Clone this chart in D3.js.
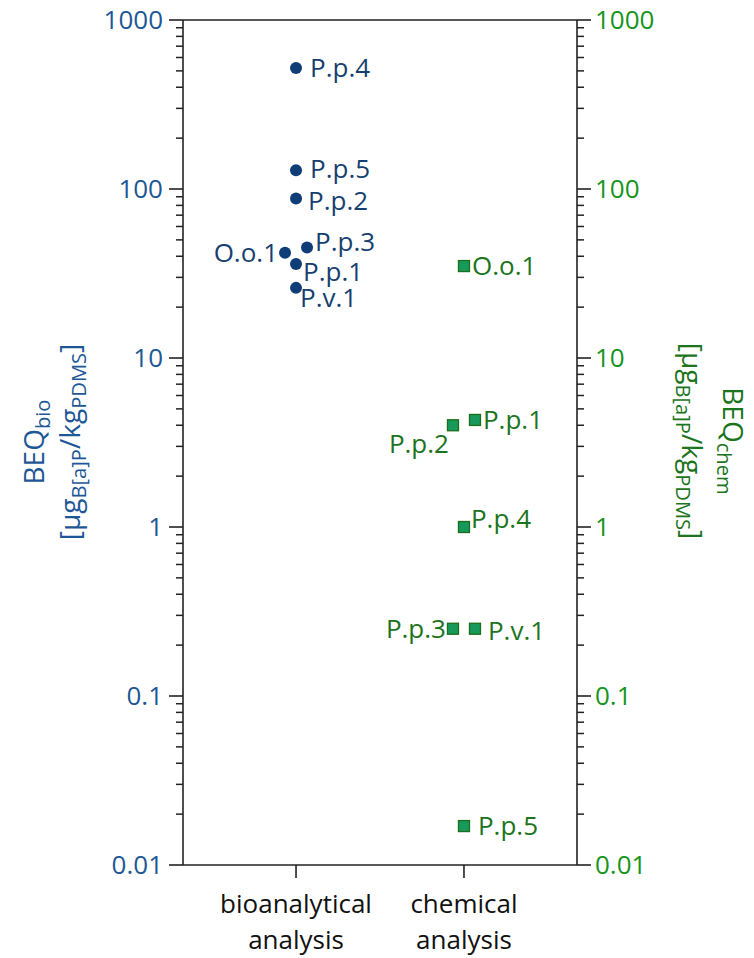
<!DOCTYPE html>
<html>
<head>
<meta charset="utf-8">
<script src="https://cdn.jsdelivr.net/npm/d3@7"></script>
<style>
  html, body { margin: 0; padding: 0; background: #fff; }
  svg { display: block; font-family: "Open Sans", sans-serif; }
</style>
</head>
<body>
<svg id="chart" width="754" height="958"></svg>
<script>
// Categories on the x axis (each label is two lines)
const categories = ["bio", "chem"];
const categoryLines = [["bioanalytical", "analysis"], ["chemical", "analysis"]];

// Bioanalytical equivalents (µg B[a]P / kg PDMS)
const bioSamples = ["P.p.4", "P.p.5", "P.p.2", "P.p.3", "O.o.1", "P.p.1", "P.v.1"];
const bioValues  = [520, 129, 88, 45, 42, 36, 26];
const bioDodge   = [0, 0, 0, 1, -1, 0, 0];

// Chemical-analysis equivalents (µg B[a]P / kg PDMS)
const chemSamples = ["O.o.1", "P.p.1", "P.p.2", "P.p.4", "P.p.3", "P.v.1", "P.p.5"];
const chemValues  = [35, 4.3, 4.0, 1.0, 0.25, 0.25, 0.017];
const chemDodge   = [0, 1, -1, 0, -1, 1, 0];

// Tick values for both log axes
const tickValues = [0.01, 0.1, 1, 10, 100, 1000];
const tickLabels = ["0.01", "0.1", "1", "10", "100", "1000"];

// Where each point label sits relative to its marker: [anchor, dx, dy]
const bioLabelPos = [
  ["start", 14, 0], ["start", 14, -2], ["start", 12, 2], ["start", 8, -6],
  ["end", -7, 0], ["start", 7, 8], ["start", 4, 10]
];
const chemLabelPos = [
  ["start", 8, 0], ["start", 8, 0], ["end", -4, 18], ["start", 7, -8],
  ["end", -7, 0], ["start", 13, 2], ["start", 14, 0]
];

const blueText = "#1d5796", blueDark = "#173f70", blueMark = "#0e3d78";
const greenText = "#16951c", greenDark = "#1c741c", greenFill = "#16995a", greenStroke = "#1c6e1c";

const svg = d3.select("#chart");
const plotL = 183, plotR = 577, plotT = 20, plotB = 865;
const fs = 26, titleFs = 28;

const y = d3.scaleLog().domain([0.01, 1000]).range([plotB, plotT]);
const x = d3.scalePoint().domain(categories).range([plotL, plotR]).padding(0.673);
const dodgeStep = 11;

// frame
const frame = svg.append("g").attr("stroke", "#222").attr("stroke-width", 1.6).attr("fill", "none");
frame.append("line").attr("x1", plotL).attr("x2", plotR).attr("y1", plotT).attr("y2", plotT);
frame.append("line").attr("x1", plotL).attr("x2", plotR).attr("y1", plotB).attr("y2", plotB);

// minor tick values between decades
const minor = [];
for (let e = -2; e < 3; e++) for (let m = 2; m <= 9; m++) minor.push(m * Math.pow(10, e));

function drawAxis(xPos, dir, color, anchor) {
  const g = svg.append("g");
  g.append("line").attr("x1", xPos).attr("x2", xPos).attr("y1", plotT).attr("y2", plotB)
    .attr("stroke", "#222").attr("stroke-width", 1.6);
  g.selectAll("line.major").data(tickValues).join("line").attr("class", "major")
    .attr("x1", xPos).attr("x2", xPos + dir * 14)
    .attr("y1", d => y(d)).attr("y2", d => y(d))
    .attr("stroke", "#222").attr("stroke-width", 1.6);
  g.selectAll("line.minor").data(minor).join("line").attr("class", "minor")
    .attr("x1", xPos).attr("x2", xPos + dir * 7)
    .attr("y1", d => y(d)).attr("y2", d => y(d))
    .attr("stroke", "#222").attr("stroke-width", 1.5);
  g.selectAll("text").data(tickValues).join("text")
    .attr("x", xPos + dir * (dir < 0 ? 20 : 18))
    .attr("y", d => y(d))
    .attr("dy", "0.36em")
    .attr("text-anchor", anchor)
    .attr("fill", color)
    .attr("font-size", fs)
    .text((d, i) => tickLabels[i]);
}
drawAxis(plotL, -1, blueText, "end");
drawAxis(plotR, 1, greenText, "start");

// category ticks and labels
const xg = svg.append("g");
xg.selectAll("line").data(categories).join("line")
  .attr("x1", d => x(d)).attr("x2", d => x(d))
  .attr("y1", plotB).attr("y2", plotB + 13)
  .attr("stroke", "#222").attr("stroke-width", 1.6);
categories.forEach((c, i) => {
  const t = xg.append("text").attr("text-anchor", "middle").attr("fill", "#111").attr("font-size", fs);
  categoryLines[i].forEach((ln, j) => {
    t.append("tspan").attr("x", x(c)).attr("y", 913 + j * 36).text(ln);
  });
});

// axis titles
function title(tx, ty, rot, color, sub) {
  const g = svg.append("g").attr("fill", color).attr("font-size", titleFs);
  const t1 = g.append("text").attr("text-anchor", "middle")
    .attr("transform", `translate(${tx[0]},${ty}) rotate(${rot})`);
  t1.append("tspan").text("BEQ");
  t1.append("tspan").attr("font-size", titleFs * 0.72).attr("dy", 6).text(sub);
  const t2 = g.append("text").attr("text-anchor", "middle")
    .attr("transform", `translate(${tx[1]},${ty}) rotate(${rot})`);
  t2.append("tspan").text("[µg");
  t2.append("tspan").attr("font-size", titleFs * 0.72).attr("dy", 6).text("B[a]P");
  t2.append("tspan").attr("dy", -6).text("/kg");
  t2.append("tspan").attr("font-size", titleFs * 0.72).attr("dy", 6).text("PDMS");
  t2.append("tspan").attr("dy", -6).text("]");
}
title([44, 80], 442, -90, blueText, "bio");
title([723, 682], 441, 90, greenDark, "chem");

// bioanalytical points
const bx = x("bio");
const bio = svg.append("g");
bio.selectAll("circle").data(bioValues).join("circle")
  .attr("cx", (d, i) => bx + bioDodge[i] * dodgeStep)
  .attr("cy", d => y(d))
  .attr("r", 6)
  .attr("fill", blueMark);
bio.selectAll("text").data(bioValues).join("text")
  .attr("x", (d, i) => bx + bioDodge[i] * dodgeStep + bioLabelPos[i][1])
  .attr("y", (d, i) => y(d) + bioLabelPos[i][2])
  .attr("dy", "0.36em")
  .attr("text-anchor", (d, i) => bioLabelPos[i][0])
  .attr("fill", blueDark).attr("font-size", fs)
  .text((d, i) => bioSamples[i]);

// chemical-analysis points
const cx = x("chem");
const chem = svg.append("g");
chem.selectAll("rect").data(chemValues).join("rect")
  .attr("x", (d, i) => cx + chemDodge[i] * dodgeStep - 5.5)
  .attr("y", d => y(d) - 5.5)
  .attr("width", 11).attr("height", 11)
  .attr("fill", greenFill).attr("stroke", greenStroke).attr("stroke-width", 1.3);
chem.selectAll("text").data(chemValues).join("text")
  .attr("x", (d, i) => cx + chemDodge[i] * dodgeStep + chemLabelPos[i][1])
  .attr("y", (d, i) => y(d) + chemLabelPos[i][2])
  .attr("dy", "0.36em")
  .attr("text-anchor", (d, i) => chemLabelPos[i][0])
  .attr("fill", greenDark).attr("font-size", fs)
  .text((d, i) => chemSamples[i]);
</script>
</body>
</html>
